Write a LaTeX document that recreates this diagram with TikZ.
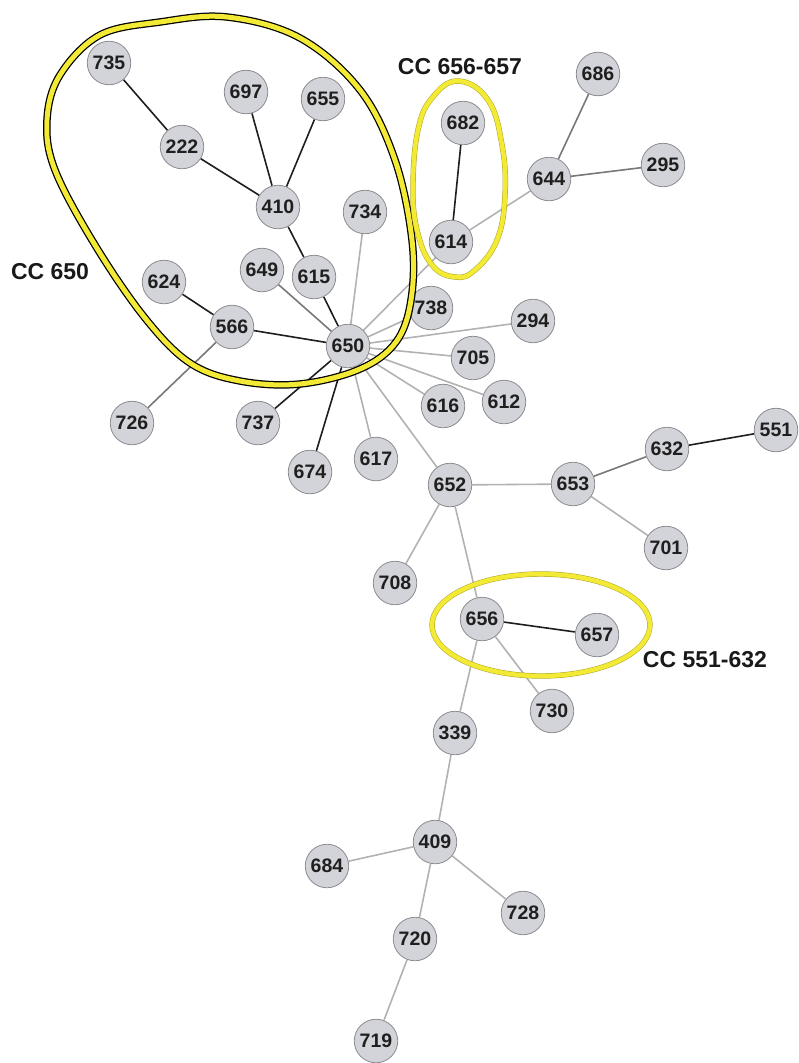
\documentclass[tikz,border=0pt]{standalone}
\usepackage{fontspec}
\setmainfont{Liberation Sans}
\usetikzlibrary{backgrounds}
\definecolor{nodefill}{RGB}{211,212,217}
\definecolor{nodeedge}{RGB}{140,140,145}
\definecolor{dkline}{RGB}{30,30,30}
\definecolor{mdline}{RGB}{120,120,120}
\definecolor{ltline}{RGB}{178,178,178}
\definecolor{hlyellow}{RGB}{242,234,52}
\definecolor{hledge}{RGB}{175,165,40}
\begin{document}
\begin{tikzpicture}[x=1pt,y=-1pt,
  nd/.style={circle,fill=nodefill,draw=nodeedge,line width=0.8pt,minimum size=43.5pt,inner sep=0pt,
    font=\fontsize{19.5}{19.5}\selectfont\bfseries,text=black!88},
  dk/.style={draw=dkline,line width=1.6pt},
  md/.style={draw=mdline,line width=1.6pt},
  lt/.style={draw=ltline,line width=1.6pt},
  cclabel/.style={font=\fontsize{23}{23}\selectfont\bfseries,text=black!90,inner sep=0pt},
  ringout/.style={draw=black,line width=7.5pt,line join=round},
  ringin/.style={draw=hlyellow,line width=5pt,line join=round},
  smout/.style={draw=hledge,line width=5.4pt,line join=round},
  smin/.style={draw=hlyellow,line width=4.4pt,line join=round}]
\useasboundingbox (0,0) rectangle (798,1063);
% nodes
\node[nd] (n735) at (109,63) {735};
\node[nd] (n697) at (246,92) {697};
\node[nd] (n655) at (323,99) {655};
\node[nd] (n222) at (182,147) {222};
\node[nd] (n410) at (278,207) {410};
\node[nd] (n734) at (365,212) {734};
\node[nd] (n649) at (262,270) {649};
\node[nd] (n615) at (314,277) {615};
\node[nd] (n624) at (164,282) {624};
\node[nd] (n566) at (232,327) {566};
\node[nd] (n650) at (348,346) {650};
\node[nd] (n726) at (132,423) {726};
\node[nd] (n737) at (258,423) {737};
\node[nd] (n674) at (310,472) {674};
\node[nd] (n617) at (376,459) {617};
\node[nd] (n682) at (463,123) {682};
\node[nd] (n686) at (598,74) {686};
\node[nd] (n644) at (549,179) {644};
\node[nd] (n295) at (663,165) {295};
\node[nd] (n614) at (451,242) {614};
\node[nd] (n738) at (431,308) {738};
\node[nd] (n294) at (533,321) {294};
\node[nd] (n705) at (473,358) {705};
\node[nd] (n616) at (443,406) {616};
\node[nd] (n612) at (504,402) {612};
\node[nd] (n652) at (450,485) {652};
\node[nd] (n653) at (573,484) {653};
\node[nd] (n632) at (667,449) {632};
\node[nd] (n551) at (776,430) {551};
\node[nd] (n701) at (666,548) {701};
\node[nd] (n708) at (395,583) {708};
\node[nd] (n656) at (482,619) {656};
\node[nd] (n657) at (597,635) {657};
\node[nd] (n730) at (552,711) {730};
\node[nd] (n339) at (455,733) {339};
\node[nd] (n409) at (435,842) {409};
\node[nd] (n684) at (327,866) {684};
\node[nd] (n728) at (523,913) {728};
\node[nd] (n720) at (415,939) {720};
\node[nd] (n719) at (376,1041) {719};
% edges (behind nodes)
\begin{scope}[on background layer]
\draw[dk] (n735) -- (n222);
\draw[dk] (n222) -- (n410);
\draw[dk] (n697) -- (n410);
\draw[dk] (n655) -- (n410);
\draw[dk] (n410) -- (n615);
\draw[dk] (n615) -- (n650);
\draw[dk] (n624) -- (n566);
\draw[dk] (n566) -- (n650);
\draw[dk] (n737) -- (n650);
\draw[dk] (n674) -- (n650);
\draw[dk] (n682) -- (n614);
\draw[dk] (n632) -- (n551);
\draw[dk] (n656) -- (n657);
\draw[md] (n649) -- (n650);
\draw[md] (n726) -- (n566);
\draw[md] (n686) -- (n644);
\draw[md] (n295) -- (n644);
\draw[md] (n653) -- (n632);
\draw[lt] (n734) -- (n650);
\draw[lt] (n614) -- (n650);
\draw[lt] (n614) -- (n644);
\draw[lt] (n738) -- (n650);
\draw[lt] (n294) -- (n650);
\draw[lt] (n705) -- (n650);
\draw[lt] (n612) -- (n650);
\draw[lt] (n616) -- (n650);
\draw[lt] (n617) -- (n650);
\draw[lt] (n652) -- (n650);
\draw[lt] (n652) -- (n653);
\draw[lt] (n653) -- (n701);
\draw[lt] (n652) -- (n708);
\draw[lt] (n652) -- (n656);
\draw[lt] (n656) -- (n730);
\draw[lt] (n656) -- (n339);
\draw[lt] (n339) -- (n409);
\draw[lt] (n409) -- (n684);
\draw[lt] (n409) -- (n728);
\draw[lt] (n409) -- (n720);
\draw[lt] (n720) -- (n719);
\end{scope}
% highlight rings
\def\bigring{plot[smooth cycle,tension=0.6] coordinates {(227,17) (300,38) (360,90) (395,160) (412,240) (411,300) (396,342) (360,369) (300,384) (240,381) (190,363) (145,318) (95,245) (55,170) (47,120) (60,75) (100,35) (160,22)}}
\draw[ringout] \bigring;
\draw[ringin] \bigring;
\def\midring{plot[smooth cycle,tension=0.7] coordinates {(458,81) (488,100) (502,145) (505,195) (497,240) (475,270) (455,277) (432,265) (417,230) (413,185) (418,130) (432,98)}}
\draw[smout] \midring;
\draw[smin] \midring;
\def\lowring{(541,625) ellipse [x radius=109, y radius=51]}
\draw[smout] \lowring;
\draw[smin] \lowring;
% labels
\node[cclabel] (l650) at (50,272) {CC 650};
\node[cclabel] (l656) at (460,67) {CC 656-657};
\node[cclabel] (l551) at (705,660) {CC 551-632};
\end{tikzpicture}
\end{document}
